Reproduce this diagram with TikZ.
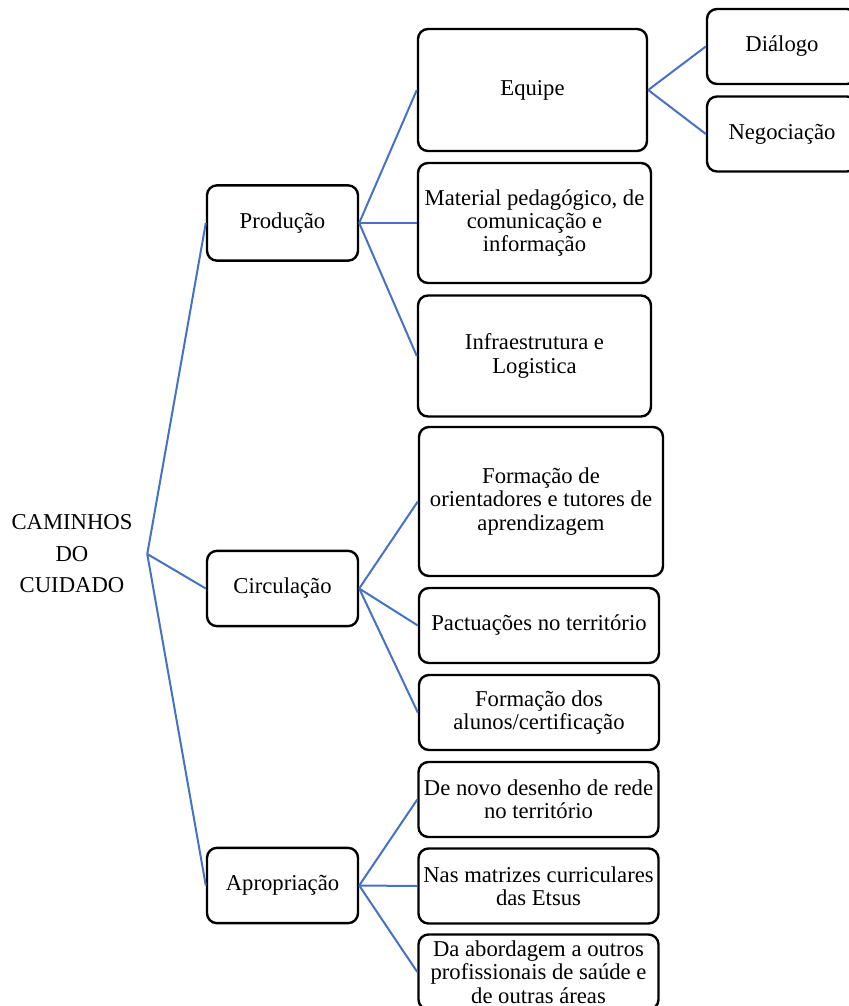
\documentclass[tikz,border=0pt]{standalone}
\usepackage{fontspec}
\setmainfont{Liberation Serif}
\definecolor{connblue}{HTML}{4472C4}
\begin{document}
\begin{tikzpicture}[x=0.75pt,y=-0.75pt,
  box/.style={draw=black, line width=1.8pt, rounded corners=7.5pt, fill=white,
    inner sep=0pt, align=center, font=\fontsize{17}{17.6}\selectfont},
  lvone/.style={box, minimum width=113.25pt, minimum height=56.5pt},
  lvtwo/.style={box, minimum width=180pt, minimum height=56.25pt},
  lvthree/.style={box, minimum width=112.5pt, minimum height=56.25pt},
  conn/.style={draw=connblue, line width=1.5pt}]
\useasboundingbox (0,0) rectangle (849,1006);
% root
\node[inner sep=0pt, minimum width=112.5pt, align=center,
  font=\fontsize{17}{23.6}\selectfont] (root) at (72,554) {CAMINHOS\\DO\\CUIDADO};
% level one
\node[lvone] (prod) at (282.5,223) {Produção};
\node[lvone] (circ) at (282.5,588.5) {Circulação};
\node[lvone] (apro) at (282.5,885.5) {Apropriação};
% level two
\node[box, minimum width=171.75pt, minimum height=91.5pt] (equipe) at (532.5,90) {Equipe};
\node[box, minimum width=174.75pt, minimum height=90pt] (mat) at (534.5,223) {Material pedagógico, de\\comunicação e\\informação};
\node[box, minimum width=174.75pt, minimum height=90.75pt] (infra) at (534.5,356) {Infraestrutura e\\Logistica};
\node[box, minimum width=183pt, minimum height=111.75pt] (orient) at (541,501.5) {Formação de\\orientadores e tutores de\\aprendizagem};
\node[lvtwo] (pact) at (539,625.5) {Pactuações no território};
\node[lvtwo] (alunos) at (539,712.5) {Formação dos\\alunos/certificação};
\node[lvtwo] (novo) at (538.5,799.5) {De novo desenho de rede\\no território};
\node[lvtwo] (matriz) at (538.5,886) {Nas matrizes curriculares\\das Etsus};
\node[lvtwo] (abord) at (538.5,972) {Da abordagem a outros\\profissionais de saúde e\\de outras áreas};
% level three
\node[lvthree] (dial) at (782,46.5) {Diálogo};
\node[lvthree] (nego) at (782,134) {Negociação};
% connectors
\draw[conn] (root.east) -- (prod.west);
\draw[conn] (root.east) -- (circ.west);
\draw[conn] (root.east) -- (apro.west);
\draw[conn] (prod.east) -- (equipe.west);
\draw[conn] (prod.east) -- (mat.west);
\draw[conn] (prod.east) -- (infra.west);
\draw[conn] (circ.east) -- (orient.west);
\draw[conn] (circ.east) -- (pact.west);
\draw[conn] (circ.east) -- (alunos.west);
\draw[conn] (apro.east) -- (novo.west);
\draw[conn] (apro.east) -- (matriz.west);
\draw[conn] (apro.east) -- (abord.west);
\draw[conn] (equipe.east) -- (dial.west);
\draw[conn] (equipe.east) -- (nego.west);
\end{tikzpicture}
\end{document}
